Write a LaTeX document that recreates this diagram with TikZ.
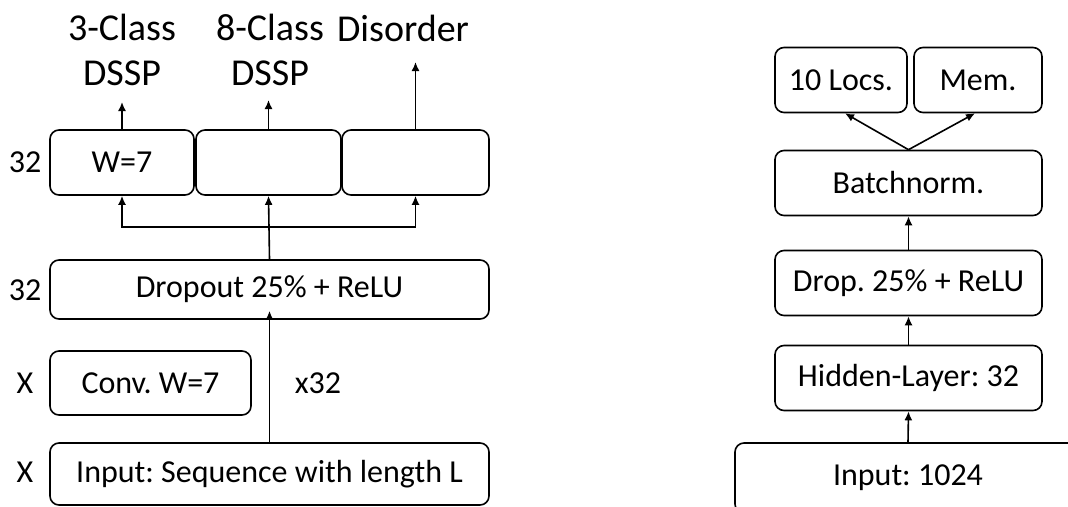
\documentclass[tikz,border=0pt]{standalone}
\usepackage{fontspec}
\setmainfont{Carlito}
\usepackage{tikz}
\usetikzlibrary{calc, positioning, arrows.meta}

\begin{document}
\frenchspacing
\begin{tikzpicture}[>={Latex[length=9pt,width=8pt]}, x=1pt, y=-1pt, line width=1.6pt,
    box/.style={draw, rounded corners=9pt, inner sep=0pt, minimum height=65pt,
        font=\fontsize{32}{38}\selectfont},
    lbl/.style={inner sep=0pt, font=\fontsize{32}{38}\selectfont},
    outlbl/.style={inner sep=0pt, align=center, font=\fontsize{38}{45}\selectfont}]
    \useasboundingbox (0,0) rectangle (1068,506);
    \clip (0,0) rectangle (1068,506);

    % Linkes Netz: Faltung pro Position
    \node[box, minimum width=439pt, minimum height=62pt] (seq) at (269.5,474) {Input: Sequence with length L};
    \node[box, minimum width=201pt, minimum height=64pt] (conv) at (150.5,383) {Conv. W=7};
    \node[box, minimum width=439pt, minimum height=59pt] (drop) at (269.5,289.5) {Dropout 25\% + ReLU};
    \node[box, minimum width=144pt] (dssp3) at (122,162.5) {W=7};
    \node[box, minimum width=145pt] (dssp8) at (268.5,162.5) {};
    \node[box, minimum width=147pt] (dis) at (415.5,162.5) {};

    % Groessen links
    \node[lbl] (nhead) at (25,162) {32};
    \node[lbl] (ndrop) at (25,290) {32};
    \node[lbl] (nconv) at (25,383) {X};
    \node[lbl] (nseq) at (25,472) {X};
    \node[lbl] (times) at (318,383) {x32};

    % Ausgaben
    \node[outlbl] (o3) at (122,50) {3-Class\\DSSP};
    \node[outlbl] (o8) at (270,50) {8-Class\\DSSP};
    \node[outlbl] (odis) at (403,28) {Disorder};
    \coordinate (t3) at (122,102);
    \coordinate (t8) at (268.5,100);
    \coordinate (tdis) at (415.5,62);
    \coordinate (split) at (268.5,227);

    \draw[->] (seq.north) -- ([yshift=9pt]drop.south);
    \draw[->] (drop.north) -- (dssp8.south);
    \draw[->] (split) -| (dssp3.south);
    \draw[->] (split) -| (dis.south);
    \draw[->] (dssp3.north) -- (t3);
    \draw[->] (dssp8.north) -- (t8);
    \draw[->] (dis.north) -- (tdis);

    % Rechtes Netz: Lokalisation
    \node[box, minimum width=346pt, minimum height=70pt] (emb) at (908,478) {Input: 1024};
    \node[box, minimum width=267pt] (hid) at (908.5,378) {Hidden-Layer: 32};
    \node[box, minimum width=267pt] (dropr) at (908.5,283) {Drop. 25\% + ReLU};
    \node[box, minimum width=267pt] (bn) at (908.5,183) {Batchnorm.};
    \node[box, minimum width=132pt] (locs) at (841,80) {10 Locs.};
    \node[box, minimum width=128pt] (mem) at (978,80) {Mem.};

    \draw[->] (emb.north) -- (hid.south);
    \draw[->] (hid.north) -- (dropr.south);
    \draw[->] (dropr.north) -- (bn.south);
    \draw[->] (bn.north) -- ([xshift=4pt]locs.south);
    \draw[->] (bn.north) -- ([xshift=-3pt]mem.south);
\end{tikzpicture}
\end{document}
